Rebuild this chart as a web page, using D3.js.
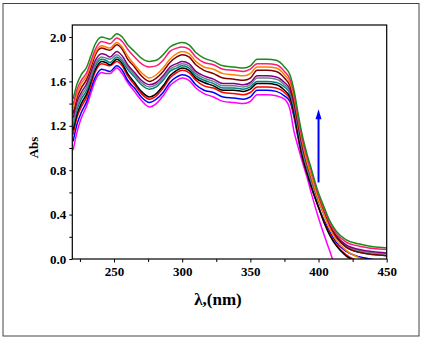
<!DOCTYPE html>
<html>
<head>
<meta charset="utf-8">
<script src="https://cdn.jsdelivr.net/npm/d3@7"></script>
<style>
html,body{margin:0;padding:0;background:#fff;}
svg{display:block;}
</style>
</head>
<body>
<svg id="chart" width="423" height="342"></svg>
<script>
// ---------------- data ----------------
const wavelengths = [220,223,226,230,233,236,241,244,247,252,256,260,265,270,276,281,286,291,296,300,305,310,316,323,330,338,345,350,355,362,369,375,379,382,385,388,391,395,399,404,408,413,420,430,440,450];

const green   = [1.44,1.58,1.66,1.73,1.83,1.93, 2.00,1.99,1.98,2.03,2.00,1.93, 1.87,1.81,1.78,1.79,1.84,1.91, 1.94,1.95,1.93,1.86,1.81,1.78, 1.74,1.73,1.72,1.74,1.80,1.80, 1.79,1.73,1.66,1.52,1.31,1.12, 0.97,0.80,0.63,0.47,0.35,0.25, 0.175,0.135,0.11,0.10];
const pink    = [1.39,1.53,1.61,1.68,1.78,1.88, 1.96,1.95,1.94,1.99,1.96,1.89, 1.82,1.76,1.73,1.74,1.79,1.87, 1.90,1.91,1.89,1.82,1.77,1.75, 1.71,1.70,1.69,1.71,1.76,1.76, 1.75,1.69,1.62,1.49,1.28,1.09, 0.94,0.78,0.61,0.45,0.33,0.23, 0.155,0.115,0.095,0.085];
const orange  = [1.35,1.49,1.58,1.65,1.75,1.85, 1.92,1.91,1.90,1.95,1.91,1.83, 1.75,1.68,1.63,1.66,1.72,1.80, 1.85,1.87,1.85,1.78,1.73,1.71, 1.67,1.66,1.65,1.67,1.73,1.73, 1.72,1.66,1.59,1.46,1.26,1.06, 0.90,0.73,0.57,0.40,0.28,0.17, 0.08,0.01,-0.02,null];
const maroon  = [1.31,1.46,1.54,1.62,1.72,1.83, 1.90,1.89,1.88,1.93,1.89,1.80, 1.73,1.65,1.60,1.63,1.69,1.77, 1.82,1.84,1.82,1.75,1.70,1.67, 1.63,1.62,1.61,1.63,1.70,1.70, 1.69,1.63,1.56,1.43,1.23,1.04, 0.89,0.73,0.58,0.42,0.30,0.20, 0.11,0.06,0.04,0.03];
const purple  = [1.27,1.42,1.50,1.58,1.68,1.78, 1.85,1.84,1.82,1.87,1.83,1.75, 1.68,1.61,1.57,1.59,1.65,1.73, 1.76,1.78,1.76,1.69,1.65,1.62, 1.58,1.58,1.57,1.59,1.65,1.65, 1.64,1.59,1.53,1.40,1.21,1.02, 0.88,0.72,0.57,0.42,0.31,0.21, 0.13,0.085,0.065,0.055];
const gray    = [1.23,1.38,1.47,1.55,1.65,1.75, 1.82,1.81,1.80,1.84,1.80,1.73, 1.66,1.59,1.55,1.57,1.63,1.71, 1.74,1.76,1.74,1.67,1.63,1.60, 1.56,1.56,1.55,1.57,1.63,1.63, 1.62,1.57,1.51,1.38,1.19,1.00, 0.86,0.70,0.56,0.41,0.30,0.20, 0.12,0.075,0.055,0.045];
const teal    = [1.20,1.35,1.44,1.52,1.62,1.73, 1.80,1.79,1.77,1.82,1.78,1.71, 1.64,1.57,1.53,1.55,1.61,1.69, 1.72,1.74,1.72,1.65,1.61,1.58, 1.54,1.54,1.53,1.55,1.60,1.60, 1.59,1.55,1.49,1.36,1.17,0.98, 0.84,0.69,0.55,0.40,0.29,0.19, 0.11,0.06,0.04,0.03];
const black   = [1.16,1.31,1.40,1.49,1.60,1.70, 1.78,1.77,1.75,1.80,1.76,1.67, 1.59,1.51,1.46,1.49,1.56,1.65, 1.70,1.72,1.70,1.63,1.59,1.56, 1.52,1.52,1.51,1.53,1.58,1.58, 1.57,1.52,1.46,1.32,1.12,0.93, 0.80,0.64,0.50,0.33,0.22,0.12, 0.03,-0.03,null,null];
const red     = [1.12,1.28,1.37,1.46,1.57,1.68, 1.76,1.75,1.74,1.78,1.74,1.65, 1.57,1.49,1.44,1.47,1.54,1.63, 1.68,1.70,1.68,1.61,1.56,1.54, 1.50,1.49,1.48,1.50,1.55,1.55, 1.54,1.50,1.44,1.30,1.11,0.92, 0.79,0.64,0.50,0.34,0.23,0.13, 0.04,-0.02,null,null];
const blue    = [1.06,1.22,1.32,1.42,1.53,1.63, 1.71,1.70,1.69,1.74,1.70,1.61, 1.54,1.46,1.41,1.44,1.50,1.59, 1.64,1.66,1.64,1.57,1.52,1.50, 1.46,1.45,1.44,1.46,1.52,1.52, 1.51,1.47,1.42,1.28,1.09,0.92, 0.79,0.64,0.50,0.35,0.25,0.15, 0.07,0.02,-0.005,null];
const magenta = [0.98,1.15,1.27,1.38,1.49,1.60, 1.68,1.67,1.67,1.72,1.67,1.59, 1.51,1.43,1.37,1.40,1.47,1.56, 1.61,1.63,1.61,1.54,1.49,1.46, 1.42,1.41,1.40,1.42,1.48,1.48, 1.47,1.44,1.35,1.15,1.01,0.88, 0.76,0.58,0.41,0.22,0.08,-0.10, null,null,null,null];

const seriesList = [magenta, blue, red, black, teal, gray, purple, maroon, orange, pink, green];
const seriesColors = ["#ff00ff","#0000ff","#ff0000","#000000","#008080","#708090","#800080","#800000","#ff8000","#ff1a75","#1a8a1a"];

const xMajorTicks = [250,300,350,400,450];
const xMinorTicks = [225,275,325,375,425];
const yMajorTicks = [0.0,0.4,0.8,1.2,1.6,2.0];
const yMinorTicks = [0.2,0.6,1.0,1.4,1.8];
const xTitle = "λ,(nm)";
const yTitle = "Abs";
const arrowX = 400, arrowFrom = 0.69, arrowTo = 1.35;

// ---------------- drawing ----------------
const svg = d3.select("#chart");
const L = 72.3, R = 386.7, T = 25, B = 259;
const x = d3.scaleLinear().domain([219.4, 450]).range([L, R]);
const y = d3.scaleLinear().domain([0, 2.108]).range([B, T]);
const font = "'Liberation Serif','Times New Roman',serif";

// outer frame
svg.append("rect").attr("x",3).attr("y",3.5).attr("width",416).attr("height",332.5)
  .attr("fill","none").attr("stroke","#444").attr("stroke-width",1);

svg.append("defs").append("clipPath").attr("id","clip")
  .append("rect").attr("x",L).attr("y",T).attr("width",R-L).attr("height",B-T);

const line = d3.line()
  .defined(d => d[1] !== null)
  .x(d => x(d[0])).y(d => y(d[1]))
  .curve(d3.curveMonotoneX);

const g = svg.append("g").attr("clip-path","url(#clip)");
seriesList.forEach((s, i) => {
  g.append("path")
    .datum(wavelengths.map((w, j) => [w, s[j]]))
    .attr("d", line)
    .attr("fill","none")
    .attr("stroke", seriesColors[i])
    .attr("stroke-width",1.5)
    .attr("stroke-linejoin","round");
});

// axes
const xAxis = svg.append("g").attr("transform",`translate(0,${B})`)
  .call(d3.axisBottom(x).tickValues(xMajorTicks).tickSize(3.5).tickPadding(4).tickFormat(d3.format("d")));
svg.append("g").attr("transform",`translate(0,${B})`)
  .call(d3.axisBottom(x).tickValues(xMinorTicks).tickSize(3).tickFormat(""));
const yAxis = svg.append("g").attr("transform",`translate(${L},0)`)
  .call(d3.axisLeft(y).tickValues(yMajorTicks).tickSize(3).tickPadding(3).tickFormat(d3.format(".1f")));
svg.append("g").attr("transform",`translate(${L},0)`)
  .call(d3.axisLeft(y).tickValues(yMinorTicks).tickSize(3).tickFormat(""));

svg.selectAll(".domain").remove();
svg.selectAll(".tick line").attr("stroke","#000").attr("stroke-width",1);
svg.selectAll(".tick text").attr("font-family",font).attr("font-weight","bold")
  .attr("font-size",13).attr("fill","#000");

// plot frame
svg.append("rect").attr("x",L).attr("y",T).attr("width",R-L).attr("height",B-T)
  .attr("fill","none").attr("stroke","#000").attr("stroke-width",1.2);

// titles
svg.append("text").attr("x",218).attr("y",305).attr("text-anchor","middle")
  .attr("font-family",font).attr("font-weight","bold").attr("font-size",17).text(xTitle);
svg.append("text").attr("transform","translate(38,147.5) rotate(-90)").attr("text-anchor","middle")
  .attr("font-family",font).attr("font-weight","bold").attr("font-size",13).text(yTitle);

// arrow
const ax = x(arrowX);
svg.append("line").attr("x1",ax).attr("x2",ax).attr("y1",y(arrowFrom)).attr("y2",y(arrowTo)+8)
  .attr("stroke","#0000ff").attr("stroke-width",2);
svg.append("path")
  .attr("d",`M${ax},${y(arrowTo)} L${ax-3},${y(arrowTo)+10} L${ax+3},${y(arrowTo)+10} Z`)
  .attr("fill","#0000ff");
</script>
</body>
</html>
